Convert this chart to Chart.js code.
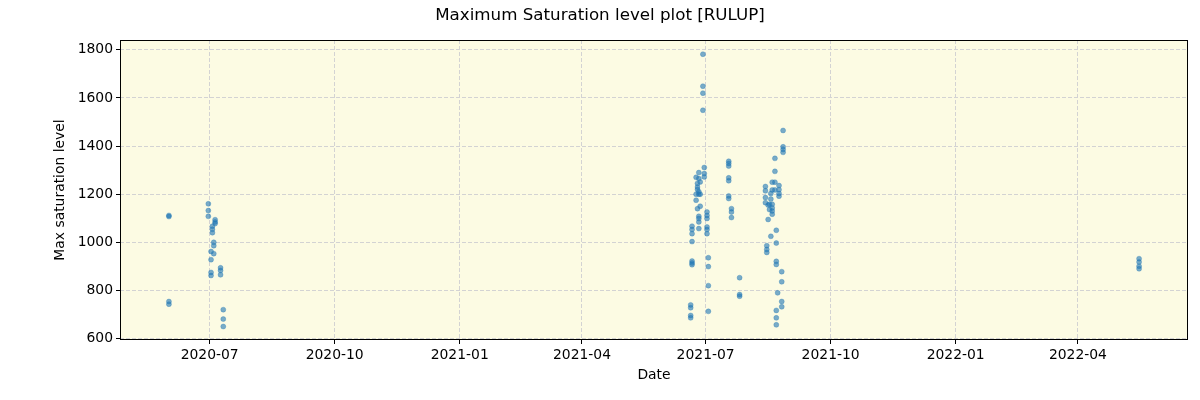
<!DOCTYPE html>
<html>
<head>
<meta charset="utf-8">
<script src="https://cdn.jsdelivr.net/npm/chart.js@4.4.1/dist/chart.umd.min.js"></script>
<style>
  html, body { margin: 0; padding: 0; background: #fff; }
  #wrap { width: 1200px; height: 400px; }
</style>
</head>
<body>
<div id="wrap"><canvas id="chart"></canvas></div>
<script>
const dates = [
  '2020-06-01','2020-06-01','2020-06-01','2020-06-01',
  '2020-06-30','2020-06-30','2020-06-30',
  '2020-07-05','2020-07-05','2020-07-05',
  '2020-07-03','2020-07-03','2020-07-03',
  '2020-07-04','2020-07-04','2020-07-04',
  '2020-07-02','2020-07-02','2020-07-02','2020-07-02',
  '2020-07-09','2020-07-09','2020-07-09',
  '2020-07-11','2020-07-11','2020-07-11',
  '2021-06-29','2021-06-29','2021-06-29','2021-06-29',
  '2021-06-21','2021-06-21','2021-06-21','2021-06-21','2021-06-21','2021-06-21','2021-06-21',
  '2021-06-20','2021-06-20','2021-06-20','2021-06-20',
  '2021-06-30','2021-06-30','2021-06-30',
  '2021-06-26','2021-06-26','2021-06-26','2021-06-26','2021-06-26','2021-06-26','2021-06-26','2021-06-26',
  '2021-06-24','2021-06-24','2021-06-24',
  '2021-06-27','2021-06-27','2021-06-27',
  '2021-06-25','2021-06-25','2021-06-25','2021-06-25',
  '2021-07-02','2021-07-02','2021-07-02','2021-07-02','2021-07-02','2021-07-02',
  '2021-07-03','2021-07-03','2021-07-03','2021-07-03',
  '2021-07-18','2021-07-18','2021-07-18','2021-07-18','2021-07-18','2021-07-18','2021-07-18',
  '2021-07-20','2021-07-20','2021-07-20',
  '2021-07-26','2021-07-26','2021-07-26',
  '2021-08-27','2021-08-27','2021-08-27','2021-08-27',
  '2021-08-21','2021-08-21','2021-08-21','2021-08-21',
  '2021-08-19','2021-08-19','2021-08-19','2021-08-19','2021-08-19','2021-08-19',
  '2021-08-24','2021-08-24','2021-08-24','2021-08-24',
  '2021-08-14','2021-08-14','2021-08-14','2021-08-14',
  '2021-08-18','2021-08-18','2021-08-18',
  '2021-08-17','2021-08-17',
  '2021-08-16','2021-08-16',
  '2021-08-22','2021-08-22','2021-08-22','2021-08-22','2021-08-22','2021-08-22','2021-08-22',
  '2021-08-15','2021-08-15','2021-08-15',
  '2021-08-26','2021-08-26','2021-08-26','2021-08-26',
  '2021-08-23',
  '2022-05-16','2022-05-16','2022-05-16','2022-05-16'
];
const levels = [
  1112, 1107, 754, 743,
  1160, 1132, 1108,
  1094, 1085, 1078,
  1067, 1054, 1040,
  1000, 986, 953,
  962, 928, 875, 862,
  894, 883, 865,
  720, 681, 650,
  1782, 1649, 1620, 1549,
  1067, 1053, 1036, 1003, 922, 914, 907,
  740, 728, 696, 686,
  1311, 1286, 1272,
  1290, 1265, 1210, 1200, 1108, 1099, 1085, 1057,
  1270, 1200, 1175,
  1251, 1200, 1150,
  1245, 1230, 1220, 1140,
  1126, 1112, 1099, 1064, 1053, 1036,
  936, 899, 820, 713,
  1337, 1328, 1317, 1268, 1256, 1193, 1182,
  1140, 1126, 1103,
  853, 783, 776,
  1465, 1397, 1386, 1374,
  1349, 1295, 1250, 1218,
  1250, 1218, 1158, 1143, 1130, 1117,
  1236, 1219, 1203, 1192,
  1232, 1214, 1186, 1165,
  1203, 1180, 1025,
  1158, 1136,
  1155, 1095,
  1050, 997, 921, 908, 717, 686, 657,
  986, 970, 958,
  878, 836, 754, 732,
  790,
  932, 918, 901, 890
];

const tickDates = ['2020-07-01','2020-10-01','2021-01-01','2021-04-01','2021-07-01','2021-10-01','2022-01-01','2022-04-01'];
const tickLabels = ['2020-07','2020-10','2021-01','2021-04','2021-07','2021-10','2022-01','2022-04'];
const yTicks = [600, 800, 1000, 1200, 1400, 1600, 1800];
const titleText = 'Maximum Saturation level plot [RULUP]';

// days since 2020-07-01, used as the linear x value
const DAY0 = Date.UTC(2020, 6, 1);
const toDay = s => (Date.parse(s) - DAY0) / 86400000;

const points = dates.map((d, i) => ({x: toDay(d), y: levels[i]}));
const tickDays = tickDates.map(toDay);

const font = 'DejaVu Sans';

// axes background, box and a figure-centred title (like matplotlib suptitle)
const frame = {
    id: 'frame',
    beforeDraw(chart) {
        const {ctx, chartArea: a} = chart;
        ctx.save();
        ctx.fillStyle = '#fcfbe3';
        ctx.fillRect(a.left, a.top, a.right - a.left, a.bottom - a.top);
        ctx.restore();
    },
    afterDraw(chart) {
        const {ctx, chartArea: a} = chart;
        ctx.save();
        ctx.strokeStyle = '#000';
        ctx.lineWidth = 1;
        ctx.strokeRect(a.left + 0.5, a.top + 0.5, a.right - a.left - 1, a.bottom - a.top - 1);
        ctx.fillStyle = '#000';
        ctx.font = '16.7px "' + font + '"';
        ctx.textAlign = 'center';
        ctx.textBaseline = 'middle';
        ctx.fillText(titleText, chart.width / 2, 16);
        ctx.restore();
    }
};

new Chart(document.getElementById('chart').getContext('2d'), {
    type: 'scatter',
    data: {
        datasets: [{
            data: points,
            pointRadius: 2.5,
            pointBorderWidth: 0.5,
            backgroundColor: 'rgba(31,119,180,0.6)',
            borderColor: 'rgba(31,119,180,0.6)'
        }]
    },
    options: {
        responsive: true,
        maintainAspectRatio: false,
        animation: false,
        layout: { padding: { left: 0, right: 12, top: 40, bottom: 0 } },
        plugins: {
            legend: { display: false },
            tooltip: { enabled: false },
            title: { display: false }
        },
        scales: {
            x: {
                type: 'linear',
                min: -66,
                max: 720,
                afterBuildTicks: s => { s.ticks = tickDays.map(v => ({ value: v })); },
                afterFit: s => { s.height = 60; },
                ticks: {
                    callback: (v, i) => tickLabels[i],
                    color: '#000',
                    font: { family: font, size: 13.9 },
                    padding: 3,
                    maxRotation: 0,
                    autoSkip: false
                },
                grid: { color: '#d3d3d3', lineWidth: 1, tickColor: '#000', tickLength: 4, tickBorderDash: [] },
                border: { display: false, dash: [4, 2] },
                title: {
                    display: true,
                    text: 'Date',
                    color: '#000',
                    font: { family: font, size: 13.9 },
                    padding: { top: 0, bottom: 16 }
                }
            },
            y: {
                min: 594,
                max: 1841,
                afterBuildTicks: s => { s.ticks = yTicks.map(v => ({ value: v })); },
                afterFit: s => { s.width = 120; },
                ticks: {
                    callback: v => String(v),
                    color: '#000',
                    font: { family: font, size: 13.9 },
                    padding: 3
                },
                grid: { color: '#d3d3d3', lineWidth: 1, tickColor: '#000', tickLength: 4, tickBorderDash: [] },
                border: { display: false, dash: [4, 2] },
                title: {
                    display: true,
                    text: 'Max saturation level',
                    color: '#000',
                    font: { family: font, size: 13.9 },
                    padding: { top: 52, bottom: 0 }
                }
            }
        }
    },
    plugins: [frame]
});
</script>
</body>
</html>
